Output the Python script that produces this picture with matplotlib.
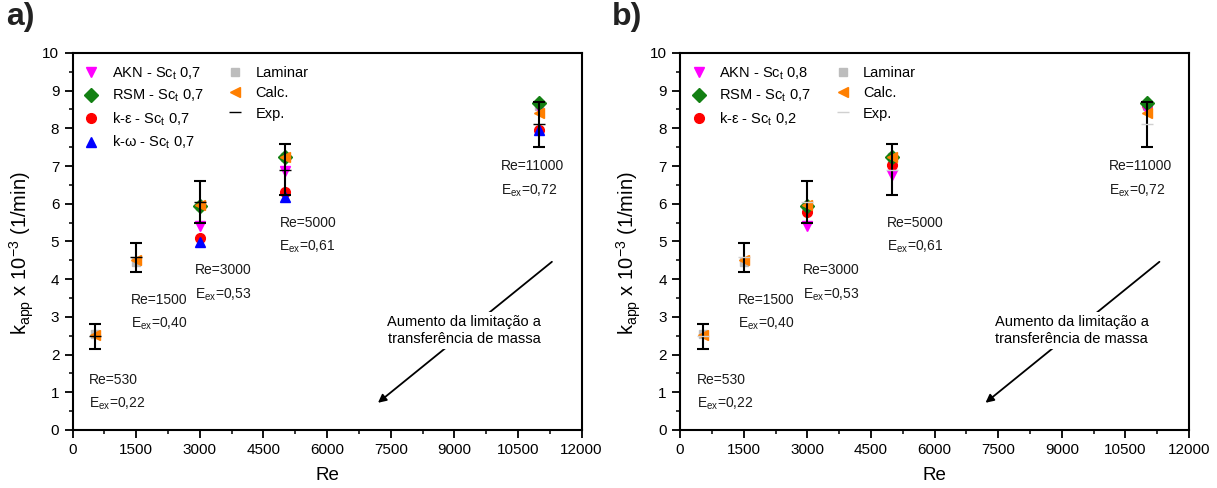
import matplotlib
matplotlib.use("Agg")
import matplotlib.pyplot as plt
from matplotlib.ticker import MultipleLocator

plt.rcParams['font.family'] = ['Liberation Sans', 'DejaVu Sans']
plt.rcParams['mathtext.fontset'] = 'custom'
plt.rcParams['mathtext.rm'] = 'Liberation Sans'
plt.rcParams['mathtext.it'] = 'Liberation Sans:italic'

# dados
re_all = [530, 1500, 3000, 5000, 11000]
re_cfd = [3000, 5000, 11000]
e_ex = ['0,22', '0,40', '0,53', '0,61', '0,72']

laminar = [2.55, 4.45, 5.95, 7.25, 8.60]
calc = [2.53, 4.50, 5.96, 7.24, 8.42]
exp_mean = [2.48, 4.58, 6.04, 6.90, 8.11]
exp_err = [0.33, 0.39, 0.55, 0.68, 0.60]

# a)
akn_a = [5.40, 6.87, 8.54]
rsm_a = [5.94, 7.24, 8.67]
ke_a = [5.09, 6.31, 7.95]
kw_a = [4.98, 6.18, 7.96]

# b)
akn_b = [5.40, 6.77, 8.49]
rsm_b = [5.94, 7.24, 8.67]
ke_b = [5.78, 7.02, 8.62]

SC = r'Sc$_\mathregular{t}$'


def plot_panel(ax, models, exp_color):
    # laminar
    ax.plot(re_all, laminar, ls='none', marker='s', ms=6, color='#bdbdbd', zorder=2)
    # modelli CFD: k-eps / k-omega sotto, poi AKN e RSM
    for i in [2, 3, 0, 1]:
        if i < len(models):
            label, vals, mk, col = models[i]
            ax.plot(re_cfd, vals, ls='none', marker=mk, ms=7, color=col, zorder=3)
    ax.plot(re_all, calc, ls='none', marker='<', ms=7, color='#ff7f00', zorder=4)
    ax.errorbar(re_all, exp_mean, yerr=exp_err, fmt='_', ms=8, color=exp_color,
                ecolor='black', elinewidth=1.5, capsize=4, capthick=1.5, zorder=5)

    # legenda
    handles = []
    labels = []
    for label, vals, mk, col in models:
        h, = ax.plot([], [], ls='none', marker=mk, ms=7, color=col)
        handles.append(h)
        labels.append(label)
    h, = ax.plot([], [], ls='none', marker='s', ms=6, color='#bdbdbd')
    handles.append(h); labels.append('Laminar')
    h, = ax.plot([], [], ls='none', marker='<', ms=7, color='#ff7f00')
    handles.append(h); labels.append('Calc.')
    h, = ax.plot([], [], ls='none', marker='_', ms=8, color=exp_color)
    handles.append(h); labels.append('Exp.')
    ax.legend(handles, labels, loc='upper left', bbox_to_anchor=(-0.005, 1.0),
              ncol=2, frameon=False, fontsize=10.5, handlelength=1.2,
              handletextpad=0.8, columnspacing=1.6, labelspacing=0.42,
              borderaxespad=0.45)

    # testi Re / Eex
    text_pos = [(396, 1.51), (1372, 3.63), (2888, 4.42), (4876, 5.68), (10102, 7.18)]
    for (x, y), r, e in zip(text_pos, re_all, e_ex):
        ax.text(x, y, 'Re=%d' % r, fontsize=10, va='top', ha='left', color='#1a1a1a')
        ax.text(x, y - 0.61, r'E$_\mathregular{ex}$=' + e, fontsize=10, va='top',
                ha='left', color='#1a1a1a')

    # freccia
    ax.annotate('', xy=(7200, 0.72), xytext=(11300, 4.46),
                arrowprops=dict(arrowstyle='-|>', color='black', lw=1.3,
                                mutation_scale=12, shrinkA=0, shrinkB=0))
    ax.text(9230, 2.63, 'Aumento da limitação a\ntransferência de massa',
            ha='center', va='center', fontsize=10.5, linespacing=1.3,
            bbox=dict(facecolor='white', edgecolor='none', pad=2))

    ax.set_xlim(0, 12000)
    ax.set_ylim(0, 10)
    ax.xaxis.set_major_locator(MultipleLocator(1500))
    ax.xaxis.set_minor_locator(MultipleLocator(750))
    ax.yaxis.set_major_locator(MultipleLocator(1))
    ax.yaxis.set_minor_locator(MultipleLocator(0.5))
    ax.tick_params(which='major', direction='out', length=6, width=1.3, labelsize=11)
    ax.tick_params(which='minor', direction='out', length=3, width=1.1)
    for s in ax.spines.values():
        s.set_linewidth(1.5)
    ax.set_xlabel('Re', fontsize=13.5, labelpad=7)
    ax.set_ylabel(r'k$_\mathregular{app}$ x 10$^\mathregular{-3}$ (1/min)', fontsize=14.5)
    ax.yaxis.set_label_coords(-0.072, 0.47)


fig = plt.figure(figsize=(12.17, 4.88), dpi=100)
ax_a = fig.add_axes([0.0596, 0.119, 0.4183, 0.7725])
ax_b = fig.add_axes([0.5588, 0.119, 0.4183, 0.7725])

models_a = [('AKN - ' + SC + ' 0,7', akn_a, 'v', '#ff00ff'),
            ('RSM - ' + SC + ' 0,7', rsm_a, 'D', '#138013'),
            ('k-ε - ' + SC + ' 0,7', ke_a, 'o', '#ff0000'),
            ('k-ω - ' + SC + ' 0,7', kw_a, '^', '#0000ff')]
models_b = [('AKN - ' + SC + ' 0,8', akn_b, 'v', '#ff00ff'),
            ('RSM - ' + SC + ' 0,7', rsm_b, 'D', '#138013'),
            ('k-ε - ' + SC + ' 0,2', ke_b, 'o', '#ff0000')]

plot_panel(ax_a, models_a, 'black')
plot_panel(ax_b, models_b, '#d0d0d0')

fig.text(0.005, 0.995, 'a)', fontsize=23, fontweight='bold', va='top', ha='left', color='#222222')
fig.text(0.503, 0.995, 'b)', fontsize=23, fontweight='bold', va='top', ha='left', color='#222222')

fig.savefig('out.png', dpi=100)
